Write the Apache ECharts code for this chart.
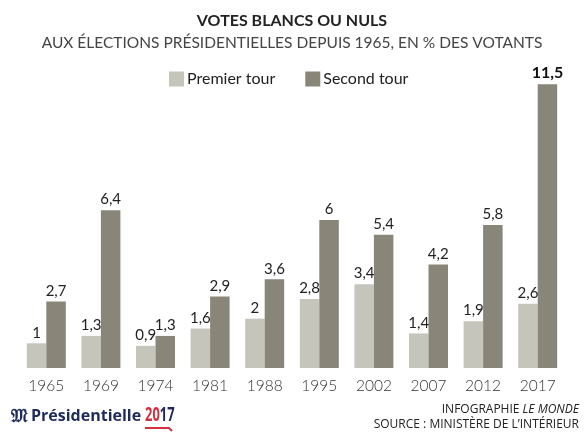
<!DOCTYPE html>
<html><head><meta charset="utf-8">
<script src="https://cdn.jsdelivr.net/npm/echarts@6/dist/echarts.min.js"></script>
<style>html,body{margin:0;padding:0;background:#fff}#c{width:584px;height:435px}</style>
</head><body><div id="c"></div>
<script>
const years = ['1965','1969','1974','1981','1988','1995','2002','2007','2012','2017'];
const premierTour = [1, 1.3, 0.9, 1.6, 2, 2.8, 3.4, 1.4, 1.9, 2.6];
const secondTour = [2.7, 6.4, 1.3, 2.9, 3.6, 6, 5.4, 4.2, 5.8, 11.5];
const seriesNames = ['Premier tour', 'Second tour'];

const FONT = 'Lato, "Open Sans", sans-serif';
const FOOT = '"Open Sans", "Noto Sans", sans-serif';
const fmt = v => String(v).replace('.', ',');
const chart = echarts.init(document.getElementById('c'));
chart.setOption({
  animation: false,
  textStyle: { fontFamily: FONT },
  title: [
    { text: 'VOTES BLANCS OU NULS', left: 'center', top: 8,
      textStyle: { fontSize: 16, fontWeight: 'bold', color: '#222', fontFamily: FONT } },
    { text: 'AUX ÉLECTIONS PRÉSIDENTIELLES DEPUIS 1965, EN % DES VOTANTS', left: 'center', top: 30,
      textStyle: { fontSize: 15.5, fontWeight: 'normal', color: '#444', fontFamily: FONT } }
  ],
  legend: {
    left: 164, top: 66, itemWidth: 15, itemHeight: 15, itemGap: 30,
    icon: 'rect',
    textStyle: { fontSize: 16, color: '#222', fontFamily: FONT, padding: [0, 0, 0, -2] },
    data: seriesNames
  },
  grid: { left: 19, right: 19, top: 72, bottom: 67, containLabel: false },
  xAxis: {
    type: 'category', data: years,
    axisLine: { show: false }, axisTick: { show: false },
    axisLabel: { fontSize: 15.5, fontWeight: 300, color: '#333', margin: 10, fontFamily: FONT }
  },
  yAxis: { type: 'value', min: 0, max: 12, show: false, splitLine: { show: false } },
  series: [
    { name: seriesNames[0], type: 'bar', data: premierTour, barWidth: 19.5, barGap: '0%',
      itemStyle: { color: '#c5c5bc' },
      label: { show: true, position: 'top', distance: 3, fontSize: 15, color: '#222', fontFamily: FONT, formatter: p => fmt(p.value) } },
    { name: seriesNames[1], type: 'bar', data: secondTour, barWidth: 19.5, barGap: '0%',
      itemStyle: { color: '#898679' },
      label: { show: true, position: 'top', distance: 3, fontSize: 15, color: '#222', fontFamily: FONT,
        formatter: p => p.dataIndex === years.length - 1 ? '{b|' + fmt(p.value) + '}' : fmt(p.value),
        rich: { b: { fontWeight: 'bold', fontSize: 16, color: '#111', fontFamily: FONT } } } }
  ],
  graphic: [
    { type: 'text', left: 11, top: 408,
      style: { text: '𝔐', fontSize: 18, fill: '#1f2a5c', fontFamily: 'serif', fontWeight: 'bold' } },
    { type: 'text', left: 31, top: 408,
      style: { text: 'Présidentielle', fontSize: 16, fill: '#1f2a5c', fontWeight: 'bold', fontFamily: FOOT } },
    { type: 'text', x: 145, y: 406, scaleX: 0.68,
      style: { text: '{r|20}{n|17}', rich: {
        r: { fontSize: 19, fontWeight: 'bold', fill: '#d42f3c', fontFamily: FOOT },
        n: { fontSize: 19, fontWeight: 'bold', fill: '#1f2a5c', fontFamily: FOOT } } } },
    { type: 'polyline', shape: { points: [[145, 428], [169, 428], [172, 431]] },
      style: { stroke: '#d42f3c', lineWidth: 2, fill: null } },
    { type: 'text', right: 5, top: 404,
      style: { text: 'INFOGRAPHIE {i|LE MONDE}', fontSize: 12, fill: '#222', fontFamily: FOOT, align: 'right',
        rich: { i: { fontStyle: 'italic', fontSize: 12, fill: '#222', fontFamily: FOOT } } } },
    { type: 'text', right: 5, top: 419,
      style: { text: 'SOURCE : MINISTÈRE DE L\u2019INTÉRIEUR', fontSize: 12, fill: '#222', fontFamily: FOOT, align: 'right' } }
  ]
});
</script></body></html>
